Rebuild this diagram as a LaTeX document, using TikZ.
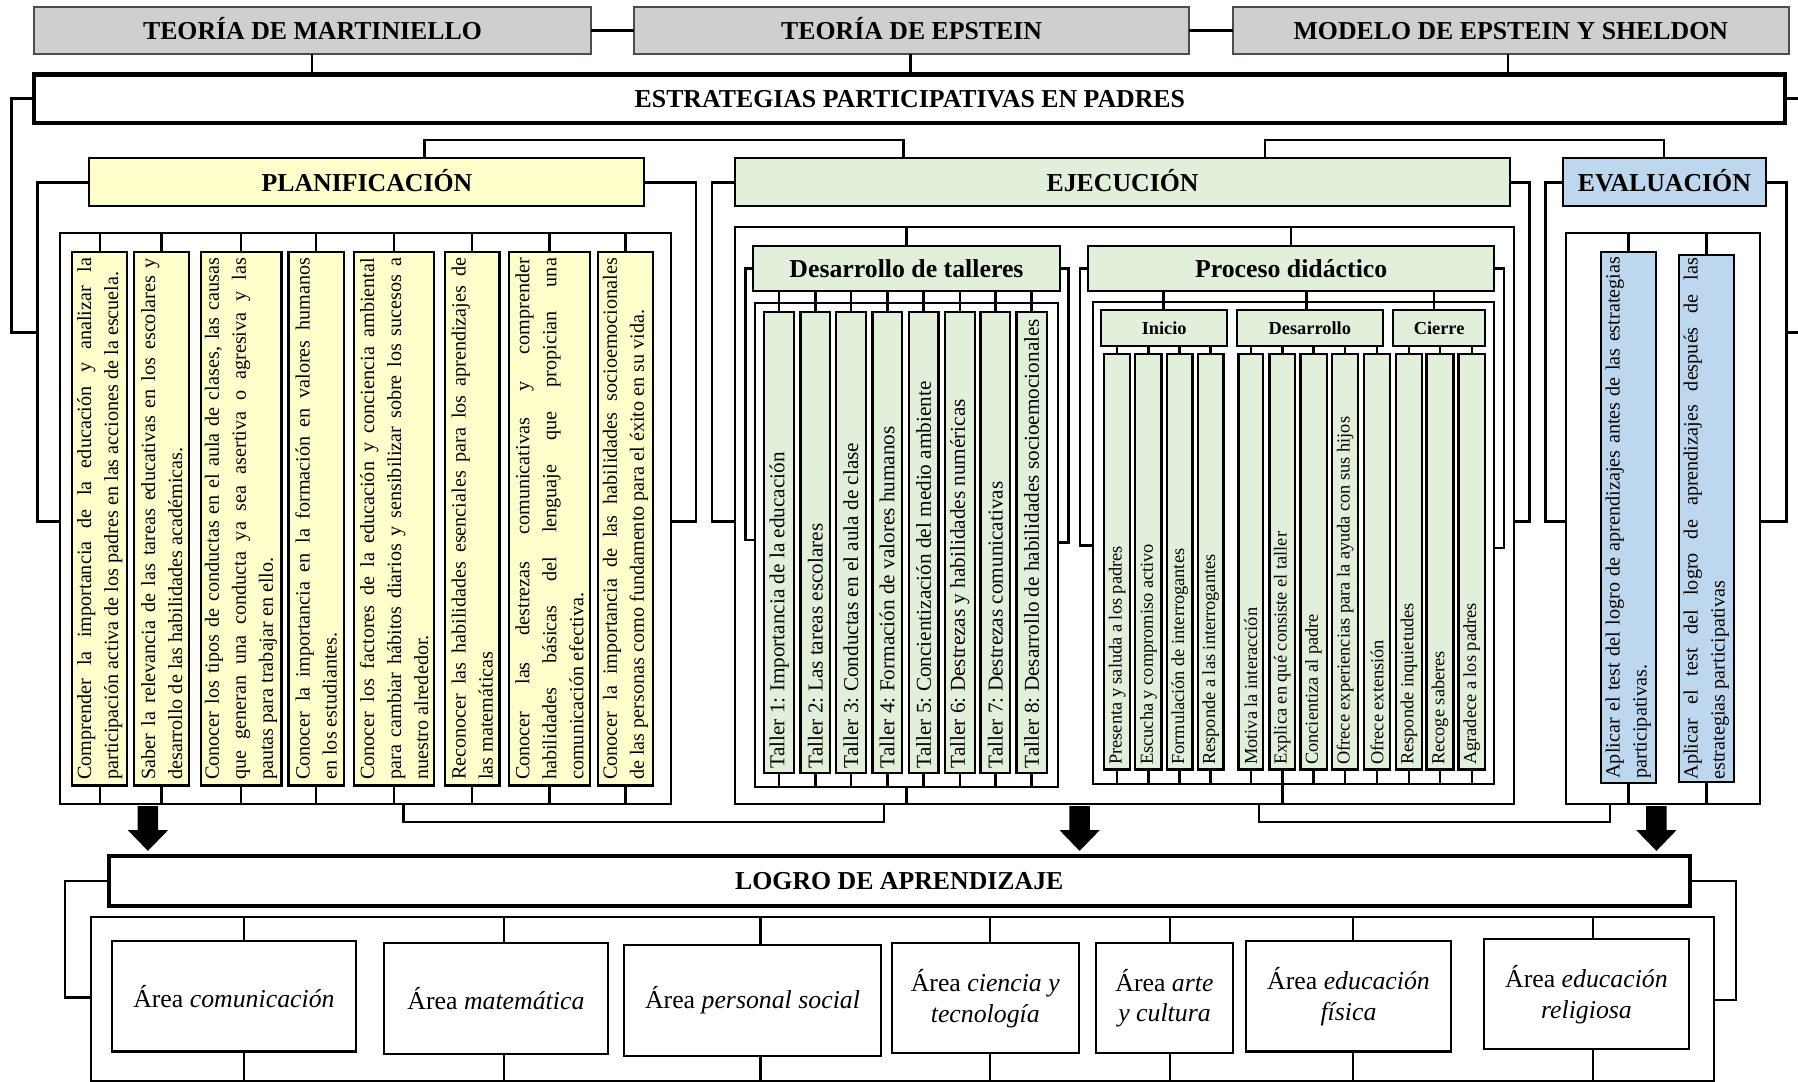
\documentclass[tikz,border=0pt]{standalone}
\usepackage{fontspec}
\setmainfont{Liberation Serif}
\tolerance=10000
\hbadness=10000
\frenchspacing
\definecolor{gfill}{HTML}{D0CECE}
\definecolor{yfill}{HTML}{FFFFCC}
\definecolor{gnfill}{HTML}{E2EFDA}
\definecolor{bfill}{HTML}{BDD7EE}
\newcommand\bx[7]{%
 \pgfmathsetmacro\bxcx{(#2+#4)/2}%
 \pgfmathsetmacro\bxcy{(#3+#5)/2}%
 \pgfmathsetmacro\bxw{#4-#2}%
 \pgfmathsetmacro\bxh{#5-#3}%
 \node[#6,minimum width=\bxw pt,minimum height=\bxh pt,inner sep=0pt,outer sep=0pt] (#1) at (\bxcx,\bxcy) {#7};}
\begin{document}
\begin{tikzpicture}[x=1pt,y=-1pt,line width=2.2pt,
 hd/.style={draw=black!70,line width=1.8pt,fill=gfill,text height=15.5pt,text depth=0pt,font=\bfseries\fontsize{22.5}{27}\selectfont},
 bigbox/.style={draw,line width=3.6pt,text height=15.5pt,text depth=0pt,font=\bfseries\fontsize{22.5}{27}\selectfont},
 ph/.style={draw,line width=1.8pt,fill=#1,text height=15.5pt,text depth=0pt,font=\bfseries\fontsize{22.5}{27}\selectfont},
 cont/.style={draw,line width=1.7pt},
 itm/.style={draw,fill=#1,line width=2pt},
 subbox/.style={draw,line width=1.8pt,fill=gnfill,text height=11pt,text depth=0pt,font=\bfseries\fontsize{16}{19}\selectfont},
 vt/.style={rotate=90,align=justify,inner sep=0pt,text width=455pt,font=\fontsize{17.6}{23.5}\selectfont},
 tt/.style={rotate=90,anchor=west,inner sep=0pt,font=\fontsize{18.5}{22}\selectfont},
 qt/.style={rotate=90,anchor=west,inner sep=0pt,font=\fontsize{16}{20}\selectfont},
 areabox/.style={draw,line width=1.8pt,align=center,font=\fontsize{22.5}{27}\selectfont}]
\useasboundingbox (0,0) rectangle (1568,943);

% ---------- top row ----------
\bx{t1}{30}{6}{515}{47}{hd}{TEORÍA DE MARTINIELLO}
\bx{t2}{553}{6}{1037}{47}{hd}{TEORÍA DE EPSTEIN}
\bx{t3}{1075}{6}{1560}{47}{hd}{MODELO DE EPSTEIN Y SHELDON}
\bx{est}{30}{65}{1557}{107}{bigbox}{ESTRATEGIAS PARTICIPATIVAS EN PADRES}
\draw (t1.east) -- (t2.west);
\draw (t2.east) -- (t3.west);
\coordinate (v1) at (272,0); \coordinate (v2) at (794,0); \coordinate (v3) at (1315,0);
\draw (t1.south -| v1) -- (est.north -| v1);
\draw (t2.south -| v2) -- (est.north -| v2);
\draw (t3.south -| v3) -- (est.north -| v3);

% ---------- phase headers ----------
\bx{plan}{78}{138}{562}{180}{ph=yfill}{PLANIFICACIÓN}
\bx{ej}{641}{138}{1317}{180}{ph=gnfill}{EJECUCIÓN}
\bx{ev}{1363}{138}{1540}{180}{ph=bfill}{EVALUACIÓN}
\coordinate (u1) at (370,122); \coordinate (u2) at (788,122);
\coordinate (u3) at (1103,122); \coordinate (u4) at (1451,122);
\draw (plan.north -| u1) -- (u1) -- (u2) -- (ej.north -| u2);
\draw (ej.north -| u3) -- (u3) -- (u4) -- (ev.north -| u4);

% ---------- containers ----------
\bx{plc}{52}{203}{585}{701}{cont}{}
\bx{ejc}{641}{198}{1320}{701}{cont}{}
\bx{evc}{1366}{203}{1535}{701}{cont}{}

% brackets
\coordinate (L1) at (10,290); \coordinate (R1) at (1571,290);
\coordinate (bpl) at (32.5,455); \coordinate (bpr) at (607,455);
\coordinate (bel) at (621,455); \coordinate (ber) at (1334,455);
\coordinate (bvl) at (1348,455); \coordinate (bvr) at (1558,455);
\draw (plan.west) -| (bpl) -- (plc.west |- bpl);
\draw (plan.east) -| (bpr) -- (plc.east |- bpr);
\draw (ej.west) -| (bel) -- (ejc.west |- bel);
\draw (ej.east) -| (ber) -- (ejc.east |- ber);
\draw (ev.west) -| (bvl) -- (evc.west |- bvl);
\draw (ev.east) -| (bvr) -- (evc.east |- bvr);
\draw (est.west) -| (L1) -- (bpl |- L1);
\draw (est.east) -| (R1) -- (bvr |- R1);

% ---------- planificacion items ----------
\foreach \i/\a/\b in {1/63/111,2/117/165,3/175/245.5,4/251.5/300,5/309/378.5,6/388/435.5,7/444/514.5,8/521.5/569.5}{
  \bx{p\i}{\a}{220}{\b}{685}{itm=yfill}{}
  \draw (plc.north -| p\i) -- (p\i.north);
  \draw (p\i.south) -- (plc.south -| p\i);
}
\node[vt] (tp1) at (p1.center) {Comprender la importancia de la educación y analizar la\linebreak participación activa de los padres en las acciones de la escuela.};
\node[vt] (tp2) at (p2.center) {Saber la relevancia de las tareas educativas en los escolares y\linebreak desarrollo de las habilidades académicas.};
\node[vt] (tp3) at (p3.center) {Conocer los tipos de conductas en el aula de clases, las causas\linebreak que generan una conducta ya sea asertiva o agresiva y las\linebreak pautas para trabajar en ello.};
\node[vt] (tp4) at (p4.center) {Conocer la importancia en la formación en valores humanos\linebreak en los estudiantes.};
\node[vt] (tp5) at (p5.center) {Conocer los factores de la educación y conciencia ambiental\linebreak para cambiar hábitos diarios y sensibilizar sobre los sucesos a\linebreak nuestro alrededor.};
\node[vt] (tp6) at (p6.center) {Reconocer las habilidades esenciales para los aprendizajes de\linebreak las matemáticas};
\node[vt] (tp7) at (p7.center) {Conocer las destrezas comunicativas y comprender\linebreak habilidades básicas del lenguaje que propician una\linebreak comunicación efectiva.};
\node[vt] (tp8) at (p8.center) {Conocer la importancia de las habilidades socioemocionales\linebreak de las personas como fundamento para el éxito en su vida.};

% ---------- ejecucion: desarrollo de talleres ----------
\bx{dt}{657}{214.5}{924}{253.5}{ph=gnfill}{Desarrollo de talleres}
\bx{dtc}{658.5}{264.5}{923}{686}{cont}{}
\draw (ejc.north -| dt.north) -- (dt.north);
\coordinate (bdl) at (650,471); \coordinate (bdr) at (932,473);
\draw (dt.west) -| (bdl) -- (dtc.west |- bdl);
\draw (dt.east) -| (bdr) -- (dtc.east |- bdr);
\foreach \i/\a/\b in {1/666.5/692.5,2/698/724,3/729/755,4/761/786.5,5/792.5/818.5,6/824/850,7/855/881,8/886.5/913}{
  \bx{w\i}{\a}{272}{\b}{674}{itm=gnfill}{}
  \draw (dt.south -| w\i) -- (w\i.north);
  \draw (w\i.south) -- (dtc.south -| w\i);
}
\draw (dtc.south) -- (ejc.south -| dtc.south);
\node[tt] (tw1) at ([yshift=3pt]w1.south) {Taller 1: Importancia de la educación};
\node[tt] (tw2) at ([yshift=3pt]w2.south) {Taller 2: Las tareas escolares};
\node[tt] (tw3) at ([yshift=3pt]w3.south) {Taller 3: Conductas en el aula de clase};
\node[tt] (tw4) at ([yshift=3pt]w4.south) {Taller 4: Formación de valores humanos};
\node[tt] (tw5) at ([yshift=3pt]w5.south) {Taller 5: Concientización del medio ambiente};
\node[tt] (tw6) at ([yshift=3pt]w6.south) {Taller 6: Destrezas y habilidades numéricas};
\node[tt] (tw7) at ([yshift=3pt]w7.south) {Taller 7: Destrezas comunicativas};
\node[tt] (tw8) at ([yshift=3pt]w8.south) {Taller 8: Desarrollo de habilidades socioemocionales};

% ---------- ejecucion: proceso didactico ----------
\bx{pd}{949}{214.5}{1303}{253.5}{ph=gnfill}{Proceso didáctico}
\bx{pdc}{953}{263.5}{1303}{684}{cont}{}
\draw (ejc.north -| pd.north) -- (pd.north);
\coordinate (bql) at (942,475.5); \coordinate (bqr) at (1311.5,478);
\draw (pd.west) -| (bql) -- (pdc.west |- bql);
\draw (pd.east) -| (bqr) -- (pdc.east |- bqr);
\bx{ini}{960.5}{270}{1070}{302}{subbox}{Inicio}
\bx{des}{1078.5}{270}{1206}{302}{subbox}{Desarrollo}
\bx{cie}{1215}{270}{1295}{302}{subbox}{Cierre}
\coordinate (s1) at (1014.5,0); \coordinate (s2) at (1139.5,0); \coordinate (s3) at (1250.5,0);
\draw (pd.south -| s1) -- (ini.north -| s1);
\draw (pd.south -| s2) -- (des.north -| s2);
\draw (pd.south -| s3) -- (cie.north -| s3);
\foreach \i/\a/\b/\pp in {1/963/985.5/ini,2/990/1013/ini,3/1017.5/1040/ini,4/1044.5/1067/ini,5/1080/1101.5/des,6/1107/1129.5/des,7/1134/1157/des,8/1161.5/1184.5/des,9/1189.5/1212/des,10/1217.5/1240/cie,11/1244/1267.5/cie,12/1272/1295/cie}{
  \bx{q\i}{\a}{308.5}{\b}{671}{itm=gnfill}{}
  \draw (\pp.south -| q\i) -- (q\i.north);
  \draw (q\i.south) -- (pdc.south -| q\i);
}
\draw (pdc.south -| q6) -- (ejc.south -| q6);
\node[qt] (tq1) at ([yshift=3pt]q1.south) {Presenta y saluda a los padres};
\node[qt] (tq2) at ([yshift=3pt]q2.south) {Escucha y compromiso activo};
\node[qt] (tq3) at ([yshift=3pt]q3.south) {Formulación de interrogantes};
\node[qt] (tq4) at ([yshift=3pt]q4.south) {Responde a las interrogantes};
\node[qt] (tq5) at ([yshift=3pt]q5.south) {Motiva la interacción};
\node[qt] (tq6) at ([yshift=3pt]q6.south) {Explica en qué consiste el taller};
\node[qt] (tq7) at ([yshift=3pt]q7.south) {Concientiza al padre};
\node[qt] (tq8) at ([yshift=3pt]q8.south) {Ofrece experiencias para la ayuda con sus hijos};
\node[qt] (tq9) at ([yshift=3pt]q9.south) {Ofrece extensión};
\node[qt] (tq10) at ([yshift=3pt]q10.south) {Responde inquietudes};
\node[qt] (tq11) at ([yshift=3pt]q11.south) {Recoge saberes};
\node[qt] (tq12) at ([yshift=3pt]q12.south) {Agradece a los padres};

% ---------- evaluacion ----------
\bx{e1}{1396}{220}{1444}{683}{itm=bfill}{}
\bx{e2}{1464}{222.5}{1512}{682}{itm=bfill}{}
\foreach \i in {1,2}{
  \draw (evc.north -| e\i) -- (e\i.north);
  \draw (e\i.south) -- (evc.south -| e\i);
}
\node[vt] (te1) at (e1.center) {Aplicar el test del logro de aprendizajes antes de las estrategias\linebreak participativas.};
\node[vt] (te2) at (e2.center) {Aplicar el test del logro de aprendizajes después de las\linebreak estrategias participativas};

% ---------- lower brackets ----------
\coordinate (d1) at (352,717); \coordinate (d2) at (771,717);
\coordinate (d3) at (1098,717); \coordinate (d4) at (1404,717);
\draw (plc.south -| d1) -- (d1) -- (d2) -- (ejc.south -| d2);
\draw (ejc.south -| d3) -- (d3) -- (d4) -- (evc.south -| d4);

% ---------- block arrows ----------
\foreach \x in {129,941.5,1444.5}{
  \fill (\x-9,703) -- (\x+9,703) -- (\x+9,724) -- (\x+17.5,724) -- (\x,742) -- (\x-17.5,724) -- (\x-9,724) -- cycle;
}

% ---------- logro ----------
\bx{lg}{95}{746.5}{1473.5}{790}{bigbox}{LOGRO DE APRENDIZAJE}
\bx{lgc}{79}{800}{1495}{942.5}{cont}{}
\coordinate (bll) at (56.5,870); \coordinate (blr) at (1514,872);
\draw (lg.west) -| (bll) -- (lgc.west |- bll);
\draw (lg.east) -| (blr) -- (lgc.east |- blr);

\bx{a1}{97.5}{821}{310.5}{917}{areabox}{Área \textit{comunicación}}
\bx{a2}{334.5}{822.5}{530.5}{919}{areabox}{Área \textit{matemática}}
\bx{a3}{544}{824}{768.5}{921}{areabox}{Área \textit{personal social}}
\bx{a4}{777.5}{822.5}{941}{918.5}{areabox}{Área \textit{ciencia y}\\\textit{tecnología}}
\bx{a5}{955.5}{822.5}{1075.5}{918.5}{areabox}{Área \textit{arte}\\\textit{y cultura}}
\bx{a6}{1086.5}{821}{1265.5}{917}{areabox}{Área \textit{educación}\\\textit{física}}
\bx{a7}{1294}{819}{1473}{915}{areabox}{Área \textit{educación}\\\textit{religiosa}}
\foreach \i/\x in {1/212.8,2/439.6,3/663.3,4/863.3,5/1020.2,6/1180,7/1389}{
  \coordinate (ac\i) at (\x,0);
  \draw (lgc.north -| ac\i) -- (a\i.north -| ac\i);
  \draw (a\i.south -| ac\i) -- (lgc.south -| ac\i);
}
\end{tikzpicture}
\end{document}
